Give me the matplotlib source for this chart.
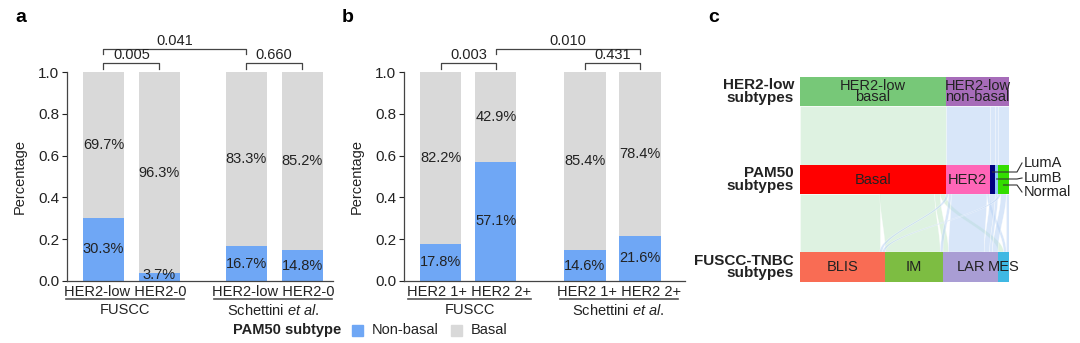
import matplotlib
matplotlib.use("Agg")
import matplotlib.pyplot as plt
from matplotlib.patches import Rectangle, Polygon
import numpy as np

plt.rcParams["font.family"] = ["Liberation Sans", "DejaVu Sans"]
plt.rcParams["mathtext.fontset"] = "custom"
plt.rcParams["mathtext.rm"] = "Liberation Sans"
plt.rcParams["mathtext.it"] = "Liberation Sans:italic"

# ---- panel a / b data ----
labels_a = ["HER2-low", "HER2-0", "HER2-low", "HER2-0"]
nonbasal_a = [30.3, 3.7, 16.7, 14.8]
basal_a = [69.7, 96.3, 83.3, 85.2]

labels_b = ["HER2 1+", "HER2 2+", "HER2 1+", "HER2 2+"]
nonbasal_b = [17.8, 57.1, 14.6, 21.6]
basal_b = [82.2, 42.9, 85.4, 78.4]

cohorts = ["FUSCC", "Schettini $\\it{et\\ al.}$"]

# p-values: (bar i, bar j, label, level)
pvals_a = [(0, 1, "0.005", 0), (0, 2, "0.041", 1), (2, 3, "0.660", 0)]
pvals_b = [(0, 1, "0.003", 0), (1, 3, "0.010", 1), (2, 3, "0.431", 0)]

# ---- panel c data (patient counts) ----
top_nodes = ["HER2-low\nbasal", "HER2-low\nnon-basal"]
top_counts = [53, 23]
mid_nodes = ["Basal", "HER2", "LumA", "LumB", "Normal"]
mid_counts = [53, 16, 2, 1, 4]
bot_nodes = ["BLIS", "IM", "LAR", "MES"]
bot_counts = [31, 21, 20, 4]

flows_top = [(0, 0, 53), (1, 1, 16), (1, 2, 2), (1, 3, 1), (1, 4, 4)]
flows_bot = [
    (0, 0, 29), (0, 1, 20), (0, 2, 2), (0, 3, 2),
    (1, 0, 1), (1, 1, 1), (1, 2, 13), (1, 3, 1),
    (2, 2, 2),
    (3, 2, 1),
    (4, 0, 1), (4, 2, 2), (4, 3, 1),
]

BLUE = "#6fa7f5"
GRAY = "#d9d9d9"
TXT = "#222222"
FS = 10

W, H = 1080, 343
fig = plt.figure(figsize=(W / 100, H / 100), dpi=100)


def fbox(x0, y0, x1, y1):
    # pixel box (from top-left) -> figure fraction rect
    return [x0 / W, 1 - y1 / H, (x1 - x0) / W, (y1 - y0) / H]


def bar_panel(rect, labels, nonbasal, basal, pvals, gap, width, xlim, underlines):
    ax = fig.add_axes(rect)
    pos = np.arange(4) + np.array([0, 0, 1, 1]) * gap
    nb = np.array(nonbasal) / 100
    bs = np.array(basal) / 100
    ax.bar(pos, nb, width, color=BLUE)
    ax.bar(pos, bs, width, bottom=nb, color=GRAY)
    for p, v, b in zip(pos, nb, bs):
        ax.text(p, max(v / 2, 0.028), f"{v * 100:.1f}%", ha="center", va="center",
                fontsize=FS + 0.5, color=TXT)
        ax.text(p, v + b / 2, f"{b * 100:.1f}%", ha="center", va="center",
                fontsize=FS + 0.5, color=TXT)
    ax.set_xlim(*xlim)
    ax.set_ylim(0, 1.0)
    ax.set_yticks(np.arange(0, 1.01, 0.2))
    ax.set_yticklabels([f"{t:.1f}" for t in np.arange(0, 1.01, 0.2)])
    ax.set_xticks([])
    ax.tick_params(axis="y", length=3.5, width=0.8, labelsize=11, colors=TXT, pad=2)
    for s in ["top", "right"]:
        ax.spines[s].set_visible(False)
    for s in ["left", "bottom"]:
        ax.spines[s].set_color("#444444")
        ax.spines[s].set_linewidth(0.9)
    ax.set_ylabel("Percentage", fontsize=FS + 0.5, color=TXT)
    ax.yaxis.set_label_coords(-40 / (rect[2] * W), 0.5)

    tr = ax.get_xaxis_transform()
    for g, ((x0, x1), name) in enumerate(zip(underlines, cohorts)):
        xm = (x0 + x1) / 2
        ax.text(xm, -0.053, f"{labels[2 * g]} {labels[2 * g + 1]}", ha="center",
                va="center", fontsize=FS + 0.5, color=TXT, transform=tr)
        ax.plot([x0, x1], [-0.086, -0.086], color="#555555", lw=1.2,
                transform=tr, clip_on=False)
        ax.text(xm, -0.105, name, ha="center", va="top",
                fontsize=FS + 0.5, color=TXT, transform=tr)

    levels = {0: (1.043, 1.016), 1: (1.112, 1.086)}
    for i, j, lab, lv in pvals:
        yt, yl = levels[lv]
        ax.plot([pos[i], pos[i], pos[j], pos[j]], [yl, yt, yt, yl], color="#444444",
                lw=0.9, clip_on=False)
        ax.text((pos[i] + pos[j]) / 2, yt + 0.005, lab, ha="center", va="bottom",
                fontsize=FS + 0.5, color=TXT)
    return ax


bar_panel(fbox(67, 72, 333, 281), labels_a, nonbasal_a, basal_a, pvals_a,
          gap=0.55, width=0.73, xlim=(-0.65, 4.1),
          underlines=[(-0.67, 1.44), (1.97, 4.09)])
bar_panel(fbox(404, 72, 685, 281), labels_b, nonbasal_b, basal_b, pvals_b,
          gap=0.62, width=0.75, xlim=(-0.67, 4.44),
          underlines=[(-0.6, 1.64), (2.16, 4.31)])

# legend
fig.text(233 / W, 1 - 330 / H, "PAM50 subtype", fontsize=FS + 0.5, fontweight="bold",
         ha="left", va="center", color=TXT)
for x0, col, lab in [(352, BLUE, "Non-basal"), (451, GRAY, "Basal")]:
    fig.patches.append(Rectangle((x0 / W, 1 - 336 / H), 11 / W, 11 / H, color=col,
                                 transform=fig.transFigure))
    fig.text((x0 + 20) / W, 1 - 330 / H, lab, fontsize=FS + 0.5, ha="left",
             va="center", color=TXT)

# ---- panel c: alluvial ----
axc = fig.add_axes(fbox(800, 77, 1009, 282))
N = sum(top_counts)
axc.set_xlim(0, N)
axc.set_ylim(282, 77)
axc.axis("off")

bands = [(77, 106), (165, 194), (252, 282)]
top_colors = ["#77c878", "#a66cb9"]
mid_colors = ["#ff0000", "#ff66b8", "#00007f", "#8ec8f8", "#33dd00"]
bot_colors = ["#f96c54", "#7dbd42", "#a99dd4", "#3fb8e3"]
flow_colors = ["#c3e8c9", "#b9d3f5"]


def starts(counts):
    return np.concatenate([[0], np.cumsum(counts)[:-1]])


def draw_nodes(counts, colors, band):
    for x0, c, col in zip(starts(counts), counts, colors):
        axc.add_patch(Rectangle((x0, band[0]), c, band[1] - band[0], color=col, lw=0,
                                zorder=3))


def draw_flows(flows, src_counts, dst_counts, band0, band1, color_of):
    src_off = starts(src_counts).astype(float)
    dst_off = starts(dst_counts).astype(float)
    src_pos, dst_pos = {}, {}
    for s, d, c in sorted(flows, key=lambda f: (f[0], f[1])):
        src_pos[(s, d)] = src_off[s]
        src_off[s] += c
    for s, d, c in sorted(flows, key=lambda f: (f[1], f[0])):
        dst_pos[(s, d)] = dst_off[d]
        dst_off[d] += c
    y0, y1 = band0[1], band1[0]
    t = np.linspace(0, 1, 60)
    sm = 3 * t ** 2 - 2 * t ** 3
    ys = y0 + (y1 - y0) * t
    for s, d, c in flows:
        a, b = src_pos[(s, d)], dst_pos[(s, d)]
        left = a + (b - a) * sm
        right = (a + c) + (b - a) * sm
        pts = np.vstack([np.column_stack([left, ys]), np.column_stack([right, ys])[::-1]])
        axc.add_patch(Polygon(pts, closed=True, facecolor=color_of(s), alpha=0.55,
                              edgecolor="white", lw=0.4, zorder=2))


draw_flows(flows_top, top_counts, mid_counts, bands[0], bands[1],
           lambda s: flow_colors[s])
draw_flows(flows_bot, mid_counts, bot_counts, bands[1], bands[2],
           lambda s: flow_colors[0 if s == 0 else 1])
draw_nodes(top_counts, top_colors, bands[0])
draw_nodes(mid_counts, mid_colors, bands[1])
draw_nodes(bot_counts, bot_colors, bands[2])

for names, counts, band, show in [
    (top_nodes, top_counts, bands[0], [0, 1]),
    (mid_nodes, mid_counts, bands[1], [0, 1]),
    (bot_nodes, bot_counts, bands[2], [0, 1, 2, 3]),
]:
    for i in show:
        x0 = starts(counts)[i]
        axc.text(x0 + counts[i] / 2, sum(band) / 2, names[i], ha="center", va="center",
                 fontsize=FS + 0.5, color=TXT, linespacing=0.8, zorder=4, clip_on=False)

row_labels = ["HER2-low\nsubtypes", "PAM50\nsubtypes", "FUSCC-TNBC\nsubtypes"]
for lab, band in zip(row_labels, bands):
    axc.text(-6 / 209, sum(band) / 2, lab, transform=axc.get_yaxis_transform(),
             ha="right", va="center", multialignment="right", fontsize=FS + 1,
             fontweight="bold", color=TXT, linespacing=0.85)

# leader labels for small PAM50 nodes
px = lambda p: (p - 800) * N / 209
mid_x = starts(mid_counts)
leaders = [(2, 172, 163), (3, 179, 178), (4, 185, 192)]
for i, y_from, y_to in leaders:
    xc = mid_x[i] + mid_counts[i] / 2
    axc.plot([xc, px(1017), px(1022)], [y_from, y_from, y_to], color="#333333", lw=0.8,
             clip_on=False, zorder=5)
    axc.text(px(1024), y_to, mid_nodes[i], ha="left", va="center", fontsize=FS + 0.5,
             color=TXT, clip_on=False)

# panel letters
for x, lab in [(15, "a"), (342, "b"), (708, "c")]:
    fig.text(x / W, 1 - 17 / H, lab, fontsize=14, fontweight="bold", ha="left",
             va="center")

fig.savefig("out.png", dpi=100)
